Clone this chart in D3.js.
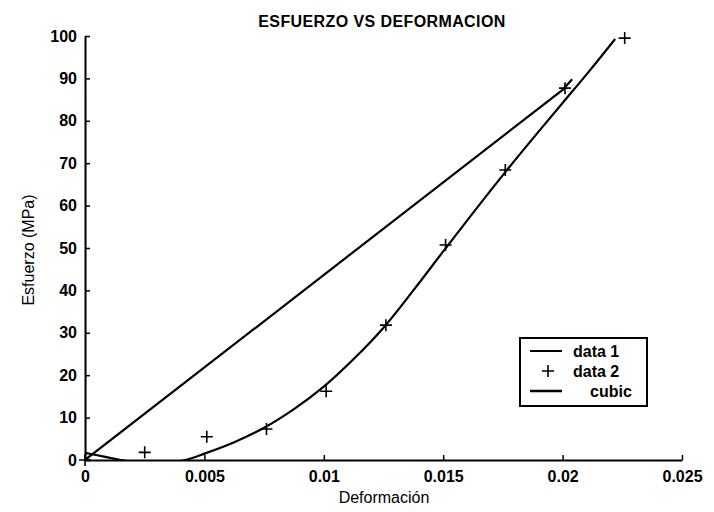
<!DOCTYPE html>
<html>
<head>
<meta charset="utf-8">
<script src="https://cdn.jsdelivr.net/npm/d3@7"></script>
<style>
  html, body { margin: 0; padding: 0; background: #fff; }
  svg { display: block; font-family: "Liberation Sans", Arial, Helvetica, sans-serif; }
</style>
</head>
<body>
<svg id="chart" width="714" height="512"></svg>
<script>
// ---- data ----
const title = "ESFUERZO VS DEFORMACION";
const xLabel = "Deformación";
const yLabel = "Esfuerzo (MPa)";

const xTicks = [0, 0.005, 0.01, 0.015, 0.02, 0.025];
const xTickLabels = ["0", "0.005", "0.01", "0.015", "0.02", "0.025"];
const yTicks = [0, 10, 20, 30, 40, 50, 60, 70, 80, 90, 100];
const yTickLabels = ["0", "10", "20", "30", "40", "50", "60", "70", "80", "90", "100"];

// data 1 (line)
const data1X = [0, 0, 0.0200, 0.0204];
const data1Y = [86, 0, 87.3, 89.8];

// data 2 (+ markers)
const data2X = [0, 0.0025, 0.0051, 0.0076, 0.0101, 0.0126, 0.0151, 0.0176, 0.0201, 0.0226];
const data2Y = [0, 1.8, 5.5, 7.3, 16.2, 31.8, 50.7, 68.4, 87.7, 99.5];

// cubic (curve)
const cubicX = [0, 0.0008, 0.0015, 0.0025, 0.0035, 0.0042, 0.005, 0.00625, 0.0075, 0.00875, 0.01, 0.01125, 0.0125, 0.01375, 0.015, 0.01625, 0.0175, 0.01875, 0.02, 0.0211, 0.0222];
const cubicY = [1.7, 0.8, 0, -0.8, -0.6, 0, 1.5, 4.2, 7.6, 12.0, 17.3, 23.8, 31.2, 40.0, 49.2, 58.3, 67.2, 75.8, 84.2, 91.6, 99.3];

const legendLabels = ["data 1", "data 2", "cubic"];

// ---- layout ----
const svg = d3.select("#chart");
const X0 = 85, X1 = 682, Y0 = 460, Y1 = 36;
const x = d3.scaleLinear().domain([0, 0.025]).range([X0, X1]);
const y = d3.scaleLinear().domain([0, 100]).range([Y0, Y1]);

svg.append("defs").append("clipPath").attr("id", "plotclip")
  .append("rect").attr("x", X0).attr("y", Y1 - 2).attr("width", X1 - X0 + 2).attr("height", Y0 - Y1 + 2);

// title
svg.append("text")
  .attr("x", 382).attr("y", 27)
  .attr("text-anchor", "middle")
  .attr("font-size", 16).attr("font-weight", "bold")
  .attr("letter-spacing", 0.4)
  .text(title);

// axes
const xAxis = d3.axisBottom(x).tickValues(xTicks)
  .tickFormat((d, i) => xTickLabels[i]).tickSizeInner(-5).tickSizeOuter(0).tickPadding(11);
const yAxis = d3.axisLeft(y).tickValues(yTicks)
  .tickFormat((d, i) => yTickLabels[i]).tickSizeInner(-5).tickSizeOuter(0).tickPadding(8);

const gx = svg.append("g").attr("transform", `translate(0,${Y0})`).call(xAxis);
const gy = svg.append("g").attr("transform", `translate(${X0},0)`).call(yAxis);
[gx, gy].forEach(g => {
  g.select(".domain").attr("stroke", "#000").attr("stroke-width", 2);
  g.selectAll(".tick line").attr("stroke", "#000").attr("stroke-width", 1.5);
  g.selectAll(".tick text").attr("fill", "#000").attr("font-size", 16).attr("font-weight", "bold")
    .attr("font-family", "'Liberation Sans', Arial, sans-serif");
});

// axis labels
svg.append("text")
  .attr("x", 384).attr("y", 503)
  .attr("text-anchor", "middle").attr("font-size", 16)
  .text(xLabel);
svg.append("text")
  .attr("transform", "translate(34,250) rotate(-90)")
  .attr("text-anchor", "middle").attr("font-size", 16)
  .text(yLabel);

// lines
const plot = svg.append("g").attr("clip-path", "url(#plotclip)");
const line = d3.line().x(d => x(d[0])).y(d => y(d[1]));
const curve = d3.line().x(d => x(d[0])).y(d => y(d[1])).curve(d3.curveCatmullRom);

plot.append("path")
  .datum(data1X.map((v, i) => [v, data1Y[i]]))
  .attr("d", line).attr("fill", "none").attr("stroke", "#000").attr("stroke-width", 2.2);

plot.append("path")
  .datum(cubicX.map((v, i) => [v, cubicY[i]]))
  .attr("d", curve).attr("fill", "none").attr("stroke", "#000").attr("stroke-width", 2.2);

// + markers
svg.append("g").selectAll("path")
  .data(data2X.map((v, i) => [v, data2Y[i]]))
  .join("path")
  .attr("transform", d => `translate(${x(d[0])},${y(d[1])})`)
  .attr("d", "M-6,0H6M0,-6V6")
  .attr("stroke", "#000").attr("stroke-width", 1.6).attr("fill", "none");

// legend
const lg = svg.append("g");
lg.append("rect").attr("x", 520).attr("y", 338).attr("width", 127).attr("height", 68)
  .attr("fill", "#fff").attr("stroke", "#000").attr("stroke-width", 2);
const rowsY = [351, 371, 391];
lg.append("line").attr("x1", 530).attr("x2", 562).attr("y1", rowsY[0]).attr("y2", rowsY[0])
  .attr("stroke", "#000").attr("stroke-width", 2);
lg.append("path").attr("transform", `translate(548,${rowsY[1]})`).attr("d", "M-6,0H6M0,-6V6")
  .attr("stroke", "#000").attr("stroke-width", 1.6);
lg.append("line").attr("x1", 530).attr("x2", 562).attr("y1", rowsY[2]).attr("y2", rowsY[2])
  .attr("stroke", "#000").attr("stroke-width", 2.5);
const textX = [573, 573, 590];
legendLabels.forEach((t, i) => {
  lg.append("text").attr("x", textX[i]).attr("y", rowsY[i]).attr("dy", "0.35em")
    .attr("font-size", 16).attr("font-weight", "bold").text(t);
});
</script>
</body>
</html>
